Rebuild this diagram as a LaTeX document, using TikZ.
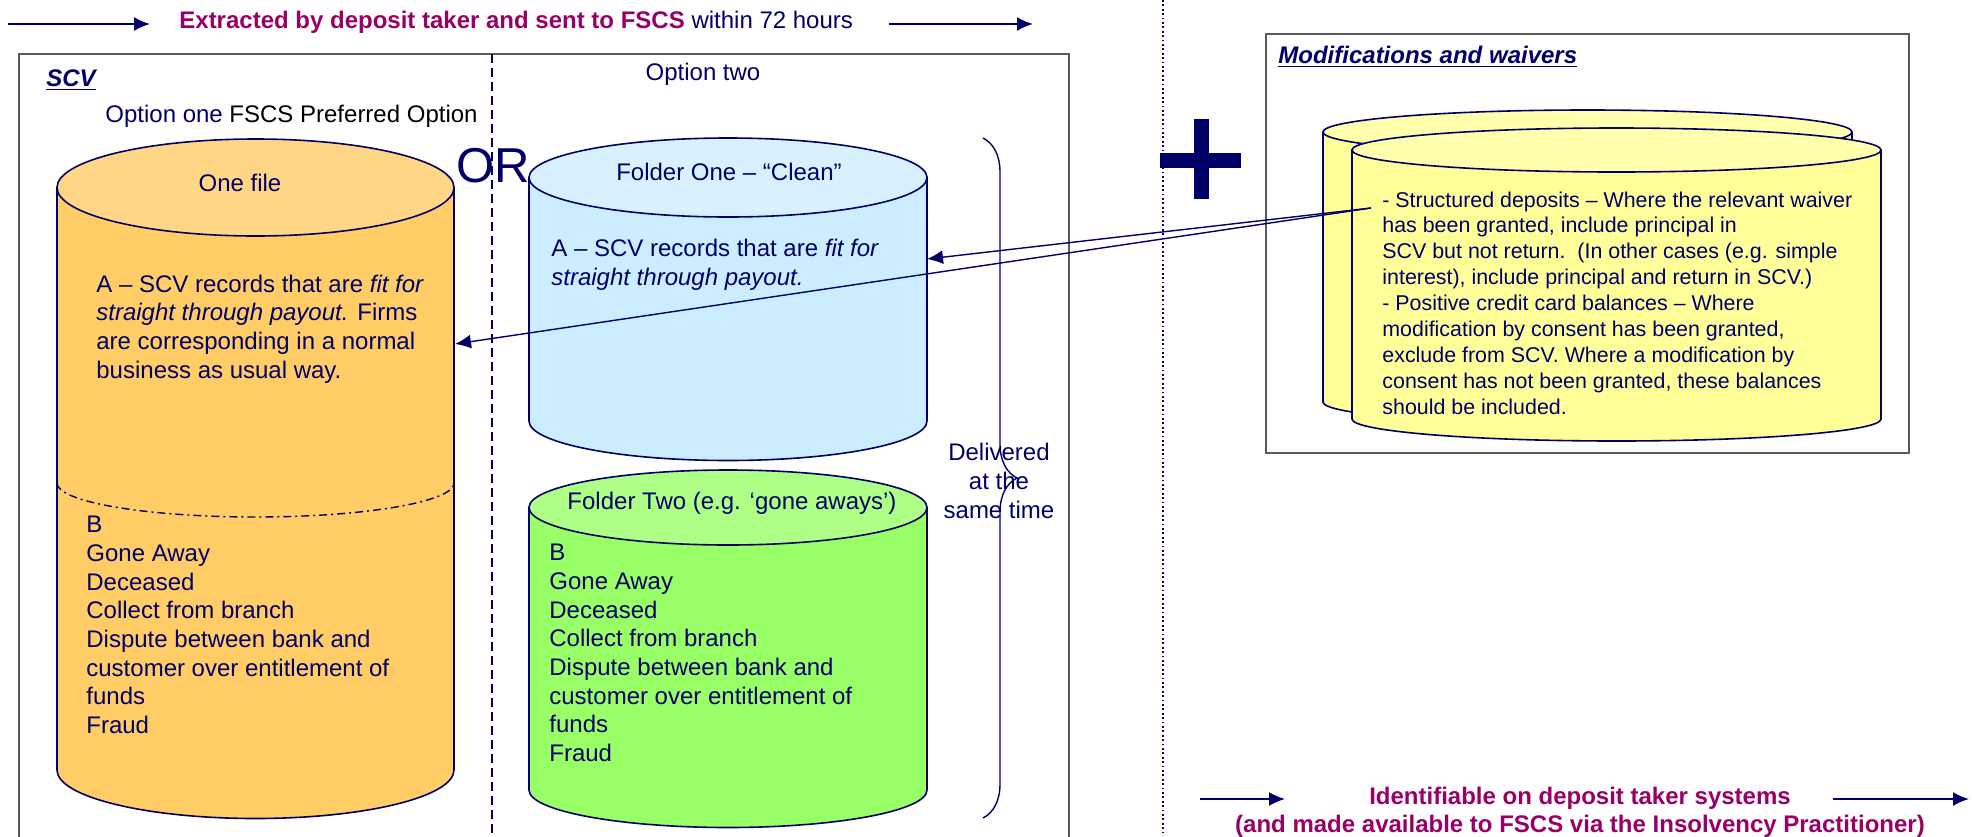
\documentclass[tikz,border=0pt]{standalone}
\usepackage{fontspec}
\setmainfont{Liberation Sans}
\usetikzlibrary{arrows.meta,decorations.pathreplacing}
\definecolor{navy}{RGB}{0,0,102}
\definecolor{plum}{RGB}{153,0,102}
\definecolor{boxgray}{RGB}{90,90,90}
\definecolor{orangebody}{RGB}{255,204,102}
\definecolor{orangetop}{RGB}{255,214,133}
\definecolor{bluebody}{RGB}{204,236,255}
\definecolor{bluetop}{RGB}{216,241,255}
\definecolor{greenbody}{RGB}{153,255,102}
\definecolor{greentop}{RGB}{173,255,133}
\definecolor{yellowbody}{RGB}{255,255,153}
\definecolor{yellowtop}{RGB}{255,255,172}

\newcommand{\drum}[7]{%
  \filldraw[drumline, fill=#6] ({#1-#4},#2) -- ({#1-#4},#3)
    arc[start angle=180, end angle=360, x radius=#4*0.5pt, y radius=#5*0.5pt] -- ({#1+#4},#2) -- cycle;
  \filldraw[drumline, fill=#7] (#1,#2) ellipse[x radius=#4*0.5pt, y radius=#5*0.5pt];
}

\begin{document}
\begin{tikzpicture}[x=0.5pt, y=0.5pt,
                    drumline/.style={draw=navy, line width=0.8pt},
                    txt/.style={text=navy, inner sep=0pt, align=left, font=\fontsize{12}{14.35}\selectfont},
                    small/.style={txt, font=\fontsize{10.7}{12.95}\selectfont},
                    flow/.style={draw=navy, line width=0.9pt, -{Latex[length=8pt, width=7pt]}},
                    pointer/.style={draw=navy, line width=0.7pt, -{Latex[length=8pt, width=7pt]}},
                    frame/.style={draw=boxgray, line width=0.9pt}]
\useasboundingbox (0,0) rectangle (1972,-836);

\draw[frame] (19,-840) |- (1069,-54) -- (1069,-840);
\draw[frame] (1266,-34) rectangle (1909,-453);
\draw[navy, line width=0.7pt, dash pattern=on 0.9pt off 1.3pt] (1163,0) -- (1163,-836);

\drum{255.5}{-187.5}{-770}{198.5}{48.5}{orangebody}{orangetop}
\draw[navy, line width=0.7pt, dash pattern=on 4pt off 2pt on 1pt off 2pt] (57,-483)
  arc[start angle=180, end angle=360, x radius=99.25pt, y radius=17pt];
\drum{728}{-177.5}{-421}{199}{39.5}{bluebody}{bluetop}
\drum{728}{-507.5}{-790}{199}{37.5}{greenbody}{greentop}
\drum{1587.5}{-132}{-402}{264.5}{22}{yellowbody}{yellowtop}
\drum{1616.5}{-150}{-419}{264.5}{22}{yellowbody}{yellowtop}

\node[txt, anchor=west, font=\fontsize{24.5}{28}\selectfont] (or) at (456,-166) {OR};
\draw[navy, line width=0.8pt, dash pattern=on 4.5pt off 2.5pt] (492,-54) -- (492,-836);

\node[txt, anchor=west] (extracted) at (179,-22) {\textcolor{plum}{\bfseries Extracted by deposit taker and sent to FSCS} within 72 hours};
\node[txt, anchor=west] (scv) at (46,-80) {\bfseries\itshape\underline{SCV}};
\node[txt] (opt2) at (703,-74) {Option two};
\node[txt, anchor=west] (opt1) at (105,-116) {Option one \textcolor{black}{FSCS Preferred Option}};

\node[txt] (onefile) at (240,-183) {One file};
\node[txt, anchor=west] (onefile-a) at (96,-329) {A – SCV records that are \textit{fit for}\\\textit{straight through payout.} Firms\\are corresponding in a normal\\business as usual way.};
\node[txt, anchor=west] (onefile-b) at (86,-625) {B\\Gone Away\\Deceased\\Collect from branch\\Dispute between bank and\\customer over entitlement of\\funds\\Fraud};

\node[txt] (clean) at (729,-172) {Folder One – “Clean”};
\node[txt, anchor=west] (clean-a) at (551,-265) {A – SCV records that are \textit{fit for}\\\textit{straight through payout.}};
\node[txt] (gone) at (732,-503) {Folder Two (e.g. ‘gone aways’)};
\node[txt, anchor=west] (gone-b) at (549,-653) {B\\Gone Away\\Deceased\\Collect from branch\\Dispute between bank and\\customer over entitlement of\\funds\\Fraud};
\node[txt, align=center] (delivered) at (999,-481) {Delivered\\at the\\same time};

\node[txt, anchor=west] (mods) at (1278,-57) {\bfseries\itshape\underline{Modifications and waivers}};
\node[small, anchor=west] (waivers) at (1382,-303) {- Structured deposits – Where the relevant waiver\\has been granted, include principal in\\SCV but not return.\ \ (In other cases (e.g. simple\\interest), include principal and return in SCV.)\\- Positive credit card balances – Where\\modification by consent has been granted,\\exclude from SCV. Where a modification by\\consent has not been granted, these balances\\should be included.};

\node[txt, text=plum, align=center, font=\bfseries\fontsize{12}{14}\selectfont] (identifiable) at (1580,-812) {Identifiable on deposit taker systems\\(and made available to FSCS via the Insolvency Practitioner)};

\draw[navy, line width=7.5pt] (1201,-119) -- (1201,-199) (1160,-160) -- (1241,-160);

\coordinate (top-a) at (8,-24);
\coordinate (top-b) at (150,-24);
\coordinate (top-c) at (889,-24);
\coordinate (top-d) at (1033,-24);
\coordinate (bot-a) at (1200,-799);
\coordinate (bot-b) at (1285,-799);
\coordinate (bot-c) at (1833,-799);
\coordinate (bot-d) at (1969,-799);
\draw[flow] (top-a) -- (top-b);
\draw[flow] (top-c) -- (top-d);
\draw[flow] (bot-a) -- (bot-b);
\draw[flow] (bot-c) -- (bot-d);

\coordinate (waiver-src) at (1371,-208);
\coordinate (clean-side) at (927,-259);
\coordinate (onefile-side) at (455,-344);
\draw[pointer] (waiver-src) -- (clean-side);
\draw[pointer] (waiver-src) -- (onefile-side);

\coordinate (brace-top) at (983,-138);
\coordinate (brace-bot) at (983,-818);
\draw[navy, line width=0.7pt, decorate, decoration={brace, amplitude=17pt}] (brace-top) -- (brace-bot);
\end{tikzpicture}
\end{document}
